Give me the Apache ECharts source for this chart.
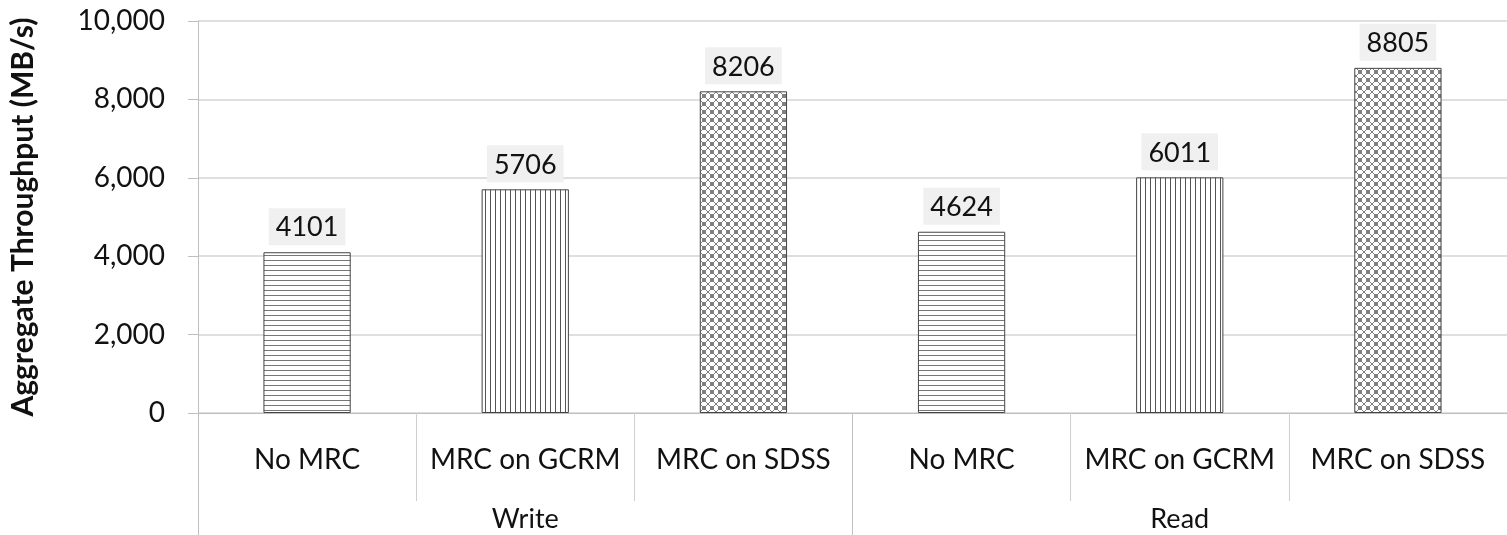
<!DOCTYPE html>
<html>
<head>
<meta charset="utf-8">
<script src="https://cdn.jsdelivr.net/npm/echarts@6/dist/echarts.min.js"></script>
<style>
  html, body { margin: 0; padding: 0; background: #fff; }
  #chart { width: 1507px; height: 535px; }
</style>
</head>
<body>
<div id="chart"></div>
<script>
const categories = ['No MRC', 'MRC on GCRM', 'MRC on SDSS', 'No MRC', 'MRC on GCRM', 'MRC on SDSS'];
const groups = ['Write', 'Read'];
const values = [4101, 5706, 8206, 4624, 6011, 8805];
const patternTypes = ['h', 'v', 'x', 'h', 'v', 'x'];
const yTicks = [0, 2000, 4000, 6000, 8000, 10000];

function makePattern(type) {
  const c = document.createElement('canvas');
  const ctx = c.getContext('2d');
  if (type === 'h') {
    c.width = 8; c.height = 5;
    ctx.fillStyle = '#fff'; ctx.fillRect(0, 0, 8, 5);
    ctx.fillStyle = '#777'; ctx.fillRect(0, 0, 8, 1);
  } else if (type === 'v') {
    c.width = 5; c.height = 8;
    ctx.fillStyle = '#fff'; ctx.fillRect(0, 0, 5, 8);
    ctx.fillStyle = '#555'; ctx.fillRect(0, 0, 1, 8);
  } else {
    c.width = 8; c.height = 8;
    ctx.fillStyle = '#fff'; ctx.fillRect(0, 0, 8, 8);
    ctx.strokeStyle = '#808080'; ctx.lineWidth = 1;
    ctx.beginPath();
    ctx.moveTo(-1, -1); ctx.lineTo(9, 9);
    ctx.moveTo(-1, 9); ctx.lineTo(9, -1);
    ctx.moveTo(3, -1); ctx.lineTo(-1, 3);
    ctx.moveTo(9, 5); ctx.lineTo(5, 9);
    ctx.moveTo(5, -1); ctx.lineTo(9, 3);
    ctx.moveTo(-1, 5); ctx.lineTo(3, 9);
    ctx.stroke();
  }
  return { image: c, repeat: 'repeat' };
}

const fontFam = 'Lato, "Open Sans", sans-serif';
const chart = echarts.init(document.getElementById('chart'), null, { renderer: 'canvas' });
chart.setOption({
  animation: false,
  backgroundColor: '#fff',
  grid: { left: 190, top: 21, width: 1320, bottom: 122, containLabel: false },
  xAxis: [
    {
      type: 'category',
      data: categories,
      position: 'bottom',
      axisLine: { show: true, lineStyle: { color: '#bfbfbf', width: 1 } },
      axisTick: { show: true, interval: 0, length: 88, lineStyle: { color: '#cfcfcf' } },
      axisLabel: { interval: 0, margin: 33, fontSize: 28, color: '#111', fontFamily: fontFam }
    },
    {
      type: 'category',
      data: groups,
      position: 'bottom',
      axisLine: { show: false },
      axisTick: { show: true, interval: 0, length: 122, lineStyle: { color: '#bfbfbf' } },
      axisLabel: { interval: 0, margin: 93, fontSize: 27, color: '#111', fontFamily: fontFam }
    }
  ],
  yAxis: {
    type: 'value',
    min: yTicks[0],
    max: yTicks[yTicks.length - 1],
    interval: 2000,
    name: 'Aggregate Throughput (MB/s)',
    nameLocation: 'middle',
    nameRotate: 90,
    nameGap: 160,
    nameTextStyle: { fontSize: 30, fontWeight: 'bold', color: '#111', fontFamily: fontFam },
    axisLine: { show: true, lineStyle: { color: '#bfbfbf' } },
    axisTick: { show: true, length: 10, lineStyle: { color: '#bfbfbf' } },
    axisLabel: {
      margin: 33, fontSize: 28, color: '#111', fontFamily: fontFam,
      formatter: v => v.toLocaleString('en-US')
    },
    splitLine: { show: true, lineStyle: { color: '#d4d4d4', width: 1.5 } }
  },
  series: [{
    type: 'bar',
    xAxisIndex: 0,
    barWidth: '40%',
    data: values.map((v, i) => ({
      value: v,
      itemStyle: { color: makePattern(patternTypes[i]), borderColor: '#444', borderWidth: 1 }
    })),
    label: {
      show: true,
      position: 'top',
      distance: 7,
      fontSize: 27,
      color: '#111',
      fontFamily: fontFam,
      backgroundColor: '#f0f0f0',
      padding: [6, 7, 4, 7]
    }
  }]
});
</script>
</body>
</html>
